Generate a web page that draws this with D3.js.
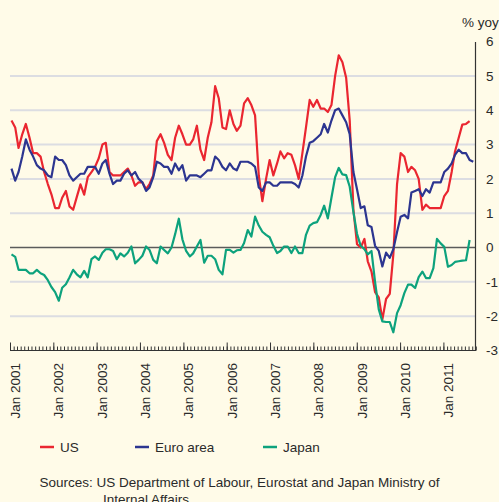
<!DOCTYPE html>
<html>
<head>
<meta charset="utf-8">
<script src="https://cdn.jsdelivr.net/npm/d3@7"></script>
<style>
  body { margin: 0; background: #fffbe8; }
  svg { display: block; font-family: 'Liberation Sans', Arial, sans-serif; }
</style>
</head>
<body>
<svg width="499" height="502"></svg>
<script>
  'use strict';

  // monthly % yoy, Jan 2001 onwards
  const usValues = [
    3.7, 3.5, 2.9, 3.3, 3.6, 3.2, 2.75, 2.75, 2.65, 2.2, 1.85, 1.55,
    1.15, 1.15, 1.45, 1.65, 1.2, 1.1, 1.47, 1.84, 1.54, 2.05, 2.2, 2.35,
    2.6, 3.0, 3.05, 2.2, 2.1, 2.1, 2.1, 2.2, 2.3, 2.1, 1.8, 1.9,
    1.9, 1.7, 1.85, 2.1, 3.1, 3.3, 3.05, 2.7, 2.55, 3.2, 3.55, 3.3,
    3.0, 3.0, 3.15, 3.55, 2.85, 2.55, 3.2, 3.65, 4.7, 4.35, 3.5, 3.45,
    4.0, 3.6, 3.4, 3.55, 4.2, 4.35, 4.15, 3.85, 2.1, 1.35, 2.0, 2.55,
    2.1, 2.45, 2.8, 2.6, 2.75, 2.7, 2.4, 2.0, 2.75, 3.5, 4.3, 4.1,
    4.3, 4.05, 4.05, 3.95, 4.15, 5.0, 5.6, 5.4, 4.95, 3.7, 1.1, 0.1,
    0.0, 0.25, -0.4, -0.7, -1.3, -1.45, -2.1, -1.5, -1.35, -0.2, 1.85, 2.75,
    2.65, 2.2, 2.35, 2.25, 2.0, 1.1, 1.25, 1.15, 1.15, 1.15, 1.15, 1.5,
    1.65, 2.2, 2.8, 3.2, 3.58, 3.6, 3.68
  ];

  const euroValues = [
    2.3, 1.95, 2.2, 2.65, 3.15, 2.85, 2.65, 2.4, 2.3, 2.25, 2.1, 2.05,
    2.65, 2.55, 2.55, 2.4, 2.1, 1.95, 2.05, 2.15, 2.15, 2.35, 2.35, 2.35,
    2.15, 2.45, 2.55, 2.15, 1.85, 1.95, 1.95, 2.15, 2.25, 2.1, 2.2, 2.0,
    1.9, 1.65, 1.75, 2.05, 2.5, 2.45, 2.35, 2.35, 2.15, 2.45, 2.25, 2.4,
    1.95, 2.1, 2.1, 2.1, 2.05, 2.15, 2.25, 2.25, 2.65, 2.55, 2.35, 2.25,
    2.45, 2.3, 2.25, 2.5, 2.5, 2.5, 2.45, 2.35, 1.75, 1.65, 1.9, 1.9,
    1.8, 1.8, 1.9, 1.9, 1.9, 1.9, 1.85, 1.75, 2.1, 2.65, 3.05, 3.1,
    3.2, 3.3, 3.6, 3.35, 3.7, 4.0, 4.05, 3.85, 3.65, 3.3, 2.2, 1.7,
    1.15, 1.2, 0.65, 0.6, 0.05, -0.1, -0.55, -0.15, -0.3, -0.05, 0.45, 0.9,
    0.95, 0.85, 1.6, 1.65, 1.7, 1.5, 1.7, 1.6, 1.9, 1.9, 1.9, 2.2,
    2.3, 2.45, 2.7, 2.85, 2.75, 2.75, 2.55, 2.5
  ];

  const japanValues = [
    -0.2, -0.27, -0.65, -0.65, -0.65, -0.75, -0.75, -0.65, -0.75, -0.8, -0.95, -1.15,
    -1.3, -1.55, -1.17, -1.07, -0.87, -0.65, -0.78, -0.87, -0.68, -0.87, -0.34, -0.26,
    -0.36, -0.15, -0.05, -0.05, -0.1, -0.34, -0.17, -0.26, -0.15, 0.03, -0.46, -0.36,
    -0.24, 0.03, -0.07, -0.36, -0.46, 0.03, -0.07, -0.17, 0.0, 0.39, 0.84, 0.24,
    -0.1, -0.26, -0.17, 0.03, 0.22, -0.44, -0.24, -0.24, -0.34, -0.65, -0.78, -0.07,
    -0.07, -0.15, -0.08, -0.07, 0.13, 0.51, 0.32, 0.9, 0.64, 0.46, 0.37, 0.3,
    0.05, -0.16, -0.1, 0.03, 0.03, -0.16, 0.03, -0.16, -0.16, 0.37, 0.64, 0.71,
    0.74, 0.95, 1.22, 0.85, 1.45, 2.05, 2.32, 2.13, 2.11, 1.77, 1.03, 0.4,
    0.05, -0.05, -0.2, -0.1, -1.0, -1.8, -2.15, -2.17, -2.17, -2.47, -1.91, -1.68,
    -1.33, -1.08, -1.08, -1.18, -0.86, -0.7, -0.89, -0.89, -0.6, 0.25, 0.12, 0.02,
    -0.56, -0.51, -0.42, -0.4, -0.38, -0.37, 0.22
  ];

  const seriesNames = ['US', 'Euro area', 'Japan'];
  const seriesColors = ['#ea2630', '#2c3590', '#0da27d'];
  const yTicks = [-3, -2, -1, 0, 1, 2, 3, 4, 5, 6];
  const gridValues = [-2, -1, 1, 2, 3, 4, 5];
  const unitLabel = '% yoy';
  const sourceLines = [
    'Sources: US Department of Labour, Eurostat and Japan Ministry of',
    'Internal Affairs.'
  ];

  const svg = d3.select('svg');

  const monthDates = n => d3.range(n).map(i => new Date(2001, i, 1));

  // axis scale (ticks) and data scale – the plotted months sit slightly stretched vs the ticks
  const x = d3.scaleTime()
      .domain([new Date(2001, 0, 1), new Date(2011, 9, 1)])
      .range([10, 475.8]);
  const xData = d3.scaleTime()
      .domain([new Date(2001, 0, 1), new Date(2011, 7, 1)])
      .range([11.5, 473.3]);
  const y = d3.scaleLinear().domain([-3, 6]).range([350.5, 41.6]);

  // grid
  svg.append('g').selectAll('line').data(gridValues)
    .enter().append('line')
      .attr('x1', 10).attr('x2', 475)
      .attr('y1', d => y(d)).attr('y2', d => y(d))
      .attr('stroke', '#dcdde2')
      .attr('stroke-width', 2);

  svg.append('line')
      .attr('x1', 10).attr('x2', 475)
      .attr('y1', y(0)).attr('y2', y(0))
      .attr('stroke', '#5b5b5b')
      .attr('stroke-width', 1.4);

  // bottom axis: monthly minor ticks, yearly major ticks
  const minor = svg.append('g')
      .attr('transform', `translate(0,${y(-3)})`)
      .call(d3.axisTop(x)
        .ticks(d3.timeMonth.every(1))
        .tickSize(4)
        .tickSizeOuter(0)
        .tickFormat(''));
  minor.select('.domain').attr('stroke', '#333').attr('d', `M10,0H475`);
  minor.selectAll('.tick line').attr('stroke', '#333');

  const major = svg.append('g')
      .attr('transform', `translate(0,${y(-3)})`)
      .call(d3.axisTop(x)
        .ticks(d3.timeYear.every(1))
        .tickSize(8)
        .tickFormat(''));
  major.select('.domain').remove();
  major.selectAll('.tick line').attr('stroke', '#333');

  svg.append('g').selectAll('text')
      .data(d3.timeYear.range(new Date(2001, 0, 1), new Date(2011, 9, 1)))
    .enter().append('text')
      .attr('transform', d => `translate(${x(d) + 10},363) rotate(-90)`)
      .attr('text-anchor', 'end')
      .attr('font-size', 13.5)
      .attr('fill', '#2a2a2a')
      .text(d3.timeFormat('Jan %Y'));

  // right axis (plain hyphen for negatives, as in the original)
  const yAxis = svg.append('g')
      .attr('transform', 'translate(475,0)')
      .call(d3.axisRight(y)
        .tickValues(yTicks)
        .tickSize(0)
        .tickPadding(11)
        .tickFormat(d => String(d)));
  yAxis.select('.domain').attr('stroke', '#333').attr('stroke-width', 1.2);
  yAxis.selectAll('text')
      .attr('font-size', 13.5)
      .attr('font-family', "'Liberation Sans', Arial, sans-serif")
      .attr('fill', '#2a2a2a');

  svg.append('text')
      .attr('x', 462).attr('y', 27)
      .attr('font-size', 13.5)
      .attr('fill', '#2a2a2a')
      .text(unitLabel);

  // series
  const lineGen = d3.line()
      .x(d => xData(d.date))
      .y(d => y(d.value));

  [usValues, euroValues, japanValues].forEach((values, i) => {
    const dates = monthDates(values.length);
    svg.append('path')
        .datum(values.map((v, j) => ({date: dates[j], value: v})))
        .attr('fill', 'none')
        .attr('stroke', seriesColors[i])
        .attr('stroke-width', 2.2)
        .attr('stroke-linejoin', 'round')
        .attr('d', lineGen);
  });

  // legend
  const legendX = [40, 135, 263];
  const legend = svg.append('g').selectAll('g').data(seriesNames)
    .enter().append('g')
      .attr('transform', (d, i) => `translate(${legendX[i]},447)`);
  legend.append('line')
      .attr('x1', 0).attr('x2', 14)
      .attr('stroke', (d, i) => seriesColors[i])
      .attr('stroke-width', 2.5);
  legend.append('text')
      .attr('x', 20).attr('y', 5)
      .attr('font-size', 13.5)
      .attr('fill', '#2a2a2a')
      .text(d => d);

  // sources
  svg.append('text')
      .attr('font-size', 13.5)
      .attr('fill', '#2a2a2a')
      .selectAll('tspan').data(sourceLines)
    .enter().append('tspan')
      .attr('x', (d, i) => i === 0 ? 39.5 : 103)
      .attr('y', (d, i) => 486.5 + i * 17)
      .text(d => d);
</script>
</body>
</html>
